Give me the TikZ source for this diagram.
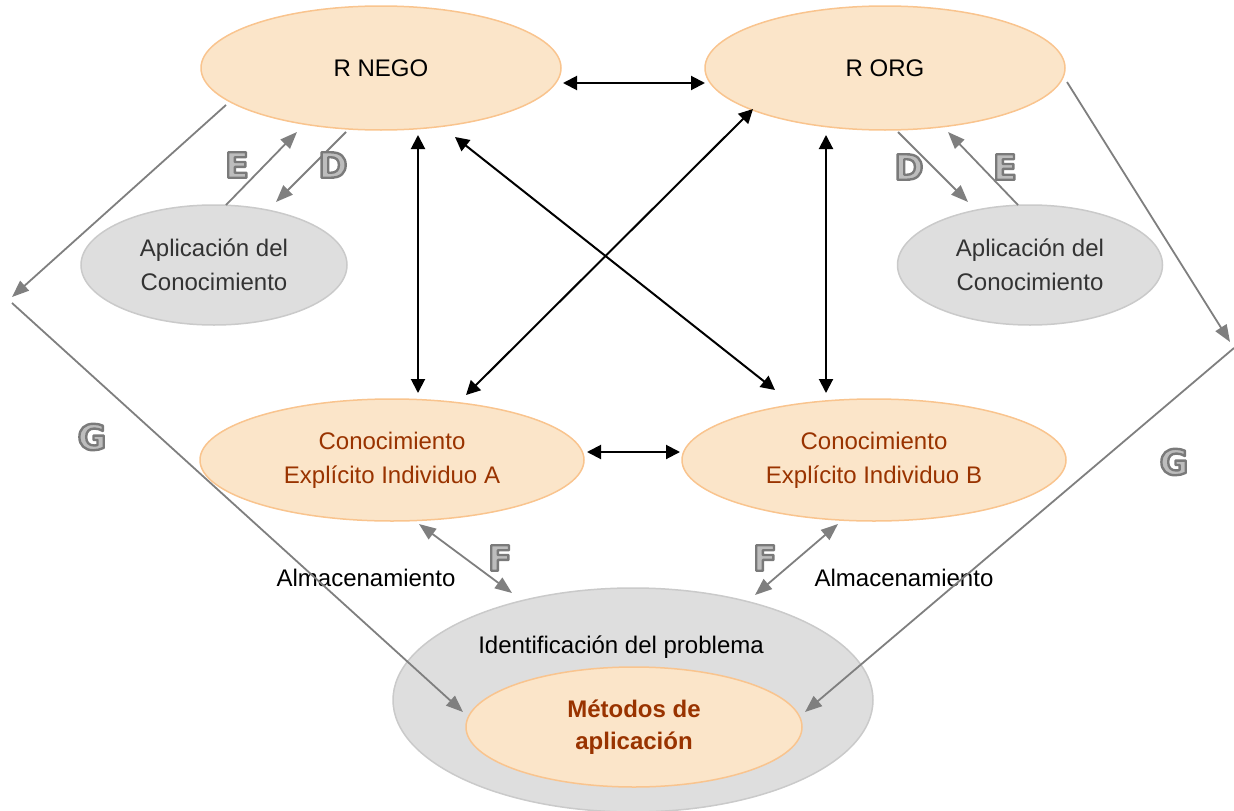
\documentclass[tikz,border=0pt]{standalone}
\usepackage{fontspec}
\setmainfont{Liberation Sans}
\newfontfamily\letfont{DejaVu Sans}
\usetikzlibrary{shapes.geometric,arrows.meta,calc}

\definecolor{orfill}{HTML}{FBE5C9}
\definecolor{orline}{HTML}{F9C48E}
\definecolor{grfill}{HTML}{DEDEDE}
\definecolor{grline}{HTML}{CACACA}
\definecolor{brown}{HTML}{993300}
\definecolor{conn}{HTML}{7F7F7F}
\definecolor{letfill}{HTML}{BDBDBD}

% bold letter, filled light grey and stroked darker grey (text render mode 2)
\newcommand\embossed[1]{%
  \textcolor{letfill}{\special{pdf:literal direct 0.48 G 2.4 w 1 j 2 Tr}#1\special{pdf:literal direct 0 Tr}}}

\tikzset{
  x=1pt, y=-1pt,
  oval/.style={ellipse, inner sep=0pt, align=center, font=\fontsize{24}{34}\selectfont},
  orange/.style={oval, fill=orfill, draw=orline, line width=1.5pt},
  greyov/.style={oval, fill=grfill, draw=grline, line width=1.5pt},
  blk/.style={line width=2pt, black, {Triangle[length=14pt,width=14pt]}-{Triangle[length=14pt,width=14pt]}},
  gry/.style={line width=1.8pt, conn, -{Triangle[length=17pt,width=13pt]}},
  grytwo/.style={line width=1.8pt, conn, {Triangle[length=17pt,width=13pt]}-{Triangle[length=17pt,width=13pt]}},
  lbl/.style={font=\fontsize{24}{34}\selectfont, inner sep=0pt},
  letter/.style={font=\letfont\bfseries\fontsize{35}{35}\selectfont, inner sep=0pt}
}

\begin{document}
\begin{tikzpicture}
\useasboundingbox (0,0) rectangle (1234,811);

% outer problem ellipse and the methods inside it
\node[greyov, minimum width=480pt, minimum height=224pt] (idp) at (633,700) {};
\node[lbl] (idptxt) at (621,647) {Identificación del problema};
\node[orange, minimum width=336pt, minimum height=120pt, font=\bfseries\fontsize{24}{32}\selectfont, text=brown] (met) at (634,727) {Métodos de\\aplicación};

% top ovals
\node[orange, minimum width=360pt, minimum height=124pt] (nego) at (381,68) {R NEGO};
\node[orange, minimum width=360pt, minimum height=124pt] (org) at (885,68) {R ORG};

% application ovals
\node[greyov, minimum width=266pt, minimum height=120pt, text=black!80] (apL) at (214,265) {Aplicación del\\Conocimiento};
\node[greyov, minimum width=265pt, minimum height=120pt, text=black!80] (apR) at (1030,265) {Aplicación del\\Conocimiento};

% explicit knowledge ovals
\node[orange, minimum width=384pt, minimum height=122pt, text=brown] (ceA) at (392,460) {Conocimiento\\Explícito Individuo A};
\node[orange, minimum width=384pt, minimum height=122pt, text=brown] (ceB) at (874,460) {Conocimiento\\Explícito Individuo B};

% storage labels
\node[lbl] (almL) at (366,578) {Almacenamiento};
\node[lbl] (almR) at (904,578) {Almacenamiento};

% black two-way links
\draw[blk] ($(nego)+(182,15)$) -- ($(org)+(-180,15)$);
\draw[blk] ($(nego)+(37,67)$) -- ($(ceA)+(26,-67)$);
\draw[blk] ($(org)+(-59,67)$) -- ($(ceB)+(-48,-67)$);
\draw[blk] ($(nego)+(74,69)$) -- ($(ceB)+(-99,-70)$);
\draw[blk] ($(org)+(-132,41)$) -- ($(ceA)+(74,-65)$);
\draw[blk] ($(ceA)+(195,-8)$) -- ($(ceB)+(-194,-8)$);

% E / D flows
\draw[gry] ($(apL)+(12,-60)$) -- ($(nego)+(-84,64)$);
\draw[gry] ($(nego)+(-35,64)$) -- ($(apL)+(62,-63)$);
\draw[gry] ($(org)+(13,64)$) -- ($(apR)+(-62,-63)$);
\draw[gry] ($(apR)+(-12,-60)$) -- ($(org)+(63,64)$);

% G flows
\coordinate (gL1) at (12,297);
\coordinate (gL2) at (12,303);
\coordinate (gR1) at (1230,342);
\coordinate (gR2) at (1234,348);
\draw[gry] ($(nego)+(-155,37)$) -- (gL1);
\draw[gry] (gL2) -- ($(met)+(-171,-15)$);
\draw[gry] ($(org)+(182,14)$) -- (gR1);
\draw[gry] (gR2) -- ($(met)+(171,-15)$);

% F flows
\draw[grytwo] ($(ceA)+(27,64)$) -- ($(idp)+(-121,-107)$);
\draw[grytwo] ($(ceB)+(-36,64)$) -- ($(idp)+(122,-105)$);

% flow letters
\node[letter] (eL) at (237,165) {\embossed{E}};
\node[letter] (dL) at (333,165) {\embossed{D}};
\node[letter] (dR) at (909,167) {\embossed{D}};
\node[letter] (eR) at (1005,167) {\embossed{E}};
\node[letter] (gL) at (92,437) {\embossed{G}};
\node[letter] (gR) at (1174,462) {\embossed{G}};
\node[letter] (fL) at (500,558) {\embossed{F}};
\node[letter] (fR) at (765,558) {\embossed{F}};
\end{tikzpicture}
\end{document}
